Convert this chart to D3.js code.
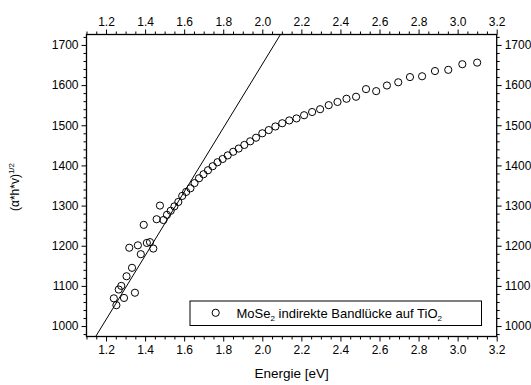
<!DOCTYPE html>
<html><head><meta charset="utf-8">
<script src="https://cdn.jsdelivr.net/npm/d3@7/dist/d3.min.js"></script>
<style>
body{margin:0;background:#fff}
text{font-family:"Liberation Sans",Arial,Helvetica,sans-serif;fill:#000}
</style>
</head><body>
<svg id="chart" width="531" height="385"></svg>
<script>
// photon energy [eV]
const energy = [1.240,1.253,1.265,1.278,1.292,1.305,1.319,1.333,1.348,1.363,1.378,1.393,1.409,1.425,1.442,1.459,1.476,1.494,1.512,1.531,1.550,1.570,1.590,1.610,1.632,1.653,1.676,1.699,1.722,1.746,1.771,1.797,1.823,1.851,1.879,1.908,1.938,1.968,2.000,2.033,2.067,2.102,2.138,2.175,2.214,2.255,2.296,2.340,2.385,2.431,2.480,2.531,2.583,2.638,2.696,2.756,2.818,2.884,2.952,3.024,3.100];
// (alpha*h*v)^(1/2)
const value = [1069,1052,1091,1100,1070,1124,1195,1145,1083,1201,1179,1252,1207,1209,1193,1266,1300,1264,1277,1287,1298,1309,1324,1334,1343,1356,1368,1378,1388,1398,1408,1416,1425,1434,1442,1451,1460,1469,1480,1488,1497,1505,1512,1517,1525,1533,1540,1550,1558,1566,1571,1590,1585,1599,1607,1620,1622,1635,1638,1652,1656];
// linear fit (indirect band gap extrapolation)
const fitSlope = 795;
const fitIntercept = 62;
const xTicks = [1.2,1.4,1.6,1.8,2.0,2.2,2.4,2.6,2.8,3.0,3.2];
const yTicks = [1000,1100,1200,1300,1400,1500,1600,1700];
const xDomain = [1.1, 3.2];
const yDomain = [974, 1726];

const svg = d3.select("#chart");
const L = 86.5, R = 496.7, T = 34.5, B = 336.5;
const x = d3.scaleLinear().domain(xDomain).range([L, R]);
const y = d3.scaleLinear().domain(yDomain).range([B, T]);

const xMinor = d3.range(1.1, 3.2001, 0.05).filter(v => !xTicks.some(t => Math.abs(t - v) < 1e-6));
const yMinor = d3.range(980, 1721, 20).filter(v => v % 100 !== 0);
const fmtX = d3.format(".1f");
const fmtY = d3.format("d");

function styleAxis(g){
  g.select(".domain").remove();
  g.selectAll("line").attr("stroke","#000").attr("stroke-width",1);
  g.selectAll("text").style("font-size","12px");
}
// major axes with labels
svg.append("g").attr("transform",`translate(0,${B})`)
  .call(d3.axisBottom(x).tickValues(xTicks).tickFormat(fmtX).tickSize(5).tickPadding(4)).call(styleAxis);
svg.append("g").attr("transform",`translate(0,${T})`)
  .call(d3.axisTop(x).tickValues(xTicks).tickFormat(fmtX).tickSize(5).tickPadding(4)).call(styleAxis);
svg.append("g").attr("transform",`translate(${L},0)`)
  .call(d3.axisLeft(y).tickValues(yTicks).tickFormat(fmtY).tickSize(5).tickPadding(3)).call(styleAxis);
svg.append("g").attr("transform",`translate(${R},0)`)
  .call(d3.axisRight(y).tickValues(yTicks).tickFormat(fmtY).tickSize(5).tickPadding(3)).call(styleAxis);
// minor ticks
svg.append("g").attr("transform",`translate(0,${B})`)
  .call(d3.axisBottom(x).tickValues(xMinor).tickFormat("").tickSize(3)).call(styleAxis);
svg.append("g").attr("transform",`translate(0,${T})`)
  .call(d3.axisTop(x).tickValues(xMinor).tickFormat("").tickSize(3)).call(styleAxis);
svg.append("g").attr("transform",`translate(${L},0)`)
  .call(d3.axisLeft(y).tickValues(yMinor).tickFormat("").tickSize(3)).call(styleAxis);
svg.append("g").attr("transform",`translate(${R},0)`)
  .call(d3.axisRight(y).tickValues(yMinor).tickFormat("").tickSize(3)).call(styleAxis);

// frame
svg.append("rect").attr("x",L).attr("y",T).attr("width",R-L).attr("height",B-T)
  .attr("fill","none").attr("stroke","#000").attr("stroke-width",1.3);

// clip
svg.append("clipPath").attr("id","clip").append("rect")
  .attr("x",L).attr("y",T).attr("width",R-L).attr("height",B-T);

// fit line
const e0 = (yDomain[0]-fitIntercept)/fitSlope, e1 = (yDomain[1]-fitIntercept)/fitSlope;
svg.append("line").attr("clip-path","url(#clip)")
  .attr("x1",x(e0)).attr("y1",y(fitSlope*e0+fitIntercept))
  .attr("x2",x(e1)).attr("y2",y(fitSlope*e1+fitIntercept))
  .attr("stroke","#000").attr("stroke-width",1);

// data points
svg.append("g").selectAll("circle").data(energy.map((e,i)=>[e,value[i]])).join("circle")
  .attr("cx",d=>x(d[0])).attr("cy",d=>y(d[1])).attr("r",3.6)
  .attr("fill","none").attr("stroke","#000").attr("stroke-width",1);

// legend
const lg = svg.append("g");
lg.append("rect").attr("x",190).attr("y",301).attr("width",291.5).attr("height",24.5)
  .attr("fill","#fff").attr("stroke","#000").attr("stroke-width",1);
lg.append("circle").attr("cx",215.7).attr("cy",312.8).attr("r",3.6)
  .attr("fill","none").attr("stroke","#000").attr("stroke-width",1);
const lt = lg.append("text").attr("x",236.5).attr("y",318).style("font-size","13px");
lt.append("tspan").text("MoSe");
lt.append("tspan").attr("dy",3).style("font-size","8px").text("2");
lt.append("tspan").attr("dy",-3).text(" indirekte Bandlücke auf TiO");
lt.append("tspan").attr("dy",3).style("font-size","8px").text("2");

// axis titles
svg.append("text").attr("x",(L+R)/2).attr("y",378).attr("text-anchor","middle")
  .style("font-size","13.5px").text("Energie [eV]");
const yt = svg.append("text").attr("transform","translate(19,187) rotate(-90)")
  .attr("text-anchor","middle").style("font-size","12px");
yt.append("tspan").text("(α*h*v)");
yt.append("tspan").attr("dy",-5).style("font-size","8px").text("1/2");
</script>
</body></html>
